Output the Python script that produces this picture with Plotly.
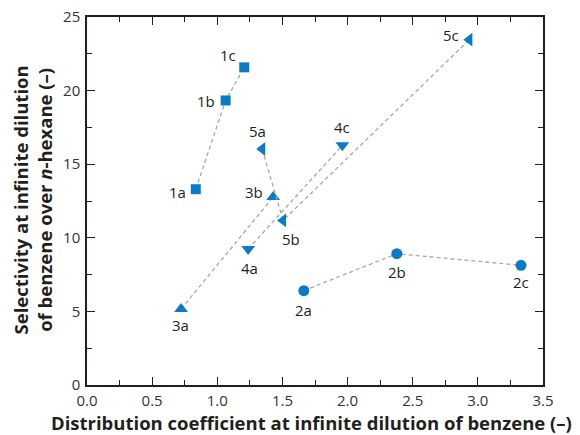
import plotly.graph_objects as go

# Data
series_names = ["1", "2", "3", "4", "5"]
series_labels = [["1a", "1b", "1c"], ["2a", "2b", "2c"], ["3a", "3b"], ["4a", "4c"], ["5a", "5b", "5c"]]
series_x = [[0.835, 1.064, 1.207], [1.664, 2.378, 3.331], [0.722, 1.429], [1.237, 1.960], [1.345, 1.505, 2.935]]
series_y = [[13.3, 19.33, 21.58], [6.41, 8.92, 8.13], [5.16, 12.77], [9.24, 16.28], [16.03, 11.18, 23.46]]
x_ticks = [0.0, 0.5, 1.0, 1.5, 2.0, 2.5, 3.0, 3.5]
x_tick_text = ["0.0", "0.5", "1.0", "1.5", "2.0", "2.5", "3.0", "3.5"]
y_ticks = [0, 5, 10, 15, 20, 25]
x_title = "Distribution coefficient at infinite dilution of benzene (–)"
y_title = "Selectivity at infinite dilution<br>of benzene over <i>n</i>-hexane (–)"

# Styles
BLUE = "#0a7bc4"
TXT = "#231f20"
symbols = ["square", "circle", "triangle-up", "triangle-down", "triangle-left"]
sizes = [10, 11, 12, 12, 12]
# label offsets (pixels, +dy = down) per point label
label_offsets = {
    "1a": (-18, 3), "1b": (-20, 1), "1c": (-16, -12), "2a": (0, 19), "2b": (0, 18), "2c": (0, 17),
    "3a": (-1, 16), "3b": (-19, -5), "4a": (1, 19), "4c": (0, -18), "5a": (-5, -18), "5b": (8, 19), "5c": (-18, -5),
}

FONT = "Open Sans"
fig = go.Figure()
annotations = []
for i, name in enumerate(series_names):
    fig.add_trace(go.Scatter(
        x=series_x[i], y=series_y[i], mode="lines+markers", name=name,
        line=dict(color="#a8a8a8", width=1.3, dash="4px,3px"),
        marker=dict(symbol=symbols[i], size=sizes[i], color=BLUE, line=dict(width=0)),
        showlegend=False,
    ))
    for lab, xv, yv in zip(series_labels[i], series_x[i], series_y[i]):
        dx, dy = label_offsets[lab]
        annotations.append(dict(x=xv, y=yv, xref="x", yref="y", text=lab, showarrow=False,
                                xshift=dx, yshift=-dy, font=dict(family=FONT, size=15, color=TXT)))

annotations.append(dict(text="<b>" + x_title + "</b>", xref="paper", yref="paper", x=0.4934, y=-0.103,
                        xanchor="center", yanchor="middle", showarrow=False,
                        font=dict(family=FONT, size=18.5, color=TXT)))
annotations.append(dict(text="<b>" + y_title + "</b>", xref="paper", yref="paper", x=-0.1195, y=0.503,
                        xanchor="center", yanchor="middle", showarrow=False, textangle=-90,
                        font=dict(family=FONT, size=18.5, color=TXT)))

axis_common = dict(
    showline=True, linecolor=TXT, linewidth=1.5, mirror="ticks",
    ticks="inside", ticklen=8, tickwidth=1.3, tickcolor=TXT,
    showgrid=False, zeroline=False, automargin=False, ticklabeloverflow="allow",
    tickfont=dict(family=FONT, size=15, color="#333333"),
)
fig.update_xaxes(
    range=[0, 3.5], tickvals=x_ticks, ticktext=x_tick_text, ticklabelstandoff=1,
    minor=dict(dtick=0.25, ticks="inside", ticklen=5, tickcolor=TXT, tickwidth=1.3),
    **axis_common,
)
fig.update_yaxes(
    range=[0, 25], tickvals=y_ticks, ticklabelstandoff=2,
    minor=dict(dtick=2.5, ticks="inside", ticklen=5, tickcolor=TXT, tickwidth=1.3),
    **axis_common,
)
fig.update_layout(
    width=580, height=435, margin=dict(l=87, r=37, t=17, b=50),
    plot_bgcolor="white", paper_bgcolor="white", annotations=annotations,
)
# remove the page's default 8px body margin so the figure fills the window
fig.write_html("out.html", config={"displayModeBar": False},
               post_script="document.body.style.margin='0';")
